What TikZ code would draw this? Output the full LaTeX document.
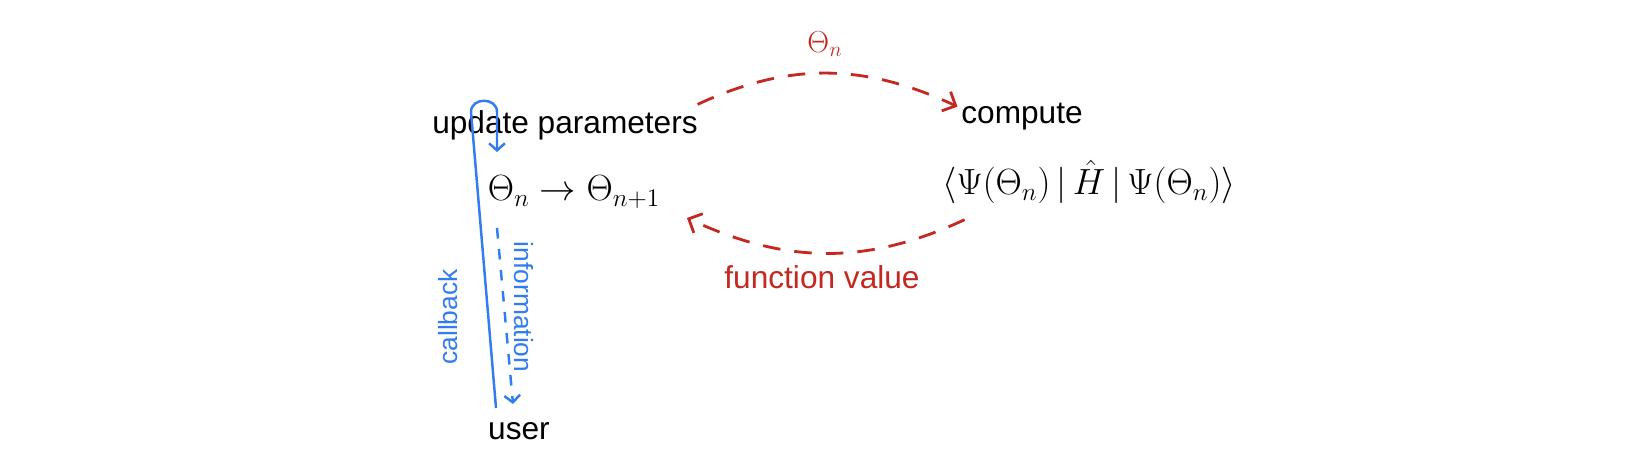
\documentclass[tikz,border=0pt]{standalone}
\usepackage{amsmath}
\usepackage{amssymb}
\usepackage{fontspec}
\setmainfont{Liberation Sans}
\usepackage{tikz}
\usetikzlibrary{arrows,arrows.meta}

\definecolor{penred}{RGB}{196,40,32}
\definecolor{penblue}{RGB}{48,124,240}

\begin{document}
\begin{tikzpicture}[x=0.02cm,y=-0.02cm]
    \tikzset{word/.style = {font=\fontsize{18}{22}\selectfont,inner sep=2pt}}
    \tikzset{formula/.style = {font=\fontsize{20}{24}\selectfont,inner sep=2pt}}
    \tikzset{note/.style = {font=\fontsize{15}{18}\selectfont,inner sep=2pt}}
    \tikzset{redarc/.style = {-{Straight Barb[length=6pt,width=12pt]},penred,line width=1.6pt,dash pattern=on 10pt off 8pt}}
    \tikzset{blueline/.style = {-{Straight Barb[length=4pt,width=9pt]},penblue,line width=1.4pt}}
    \useasboundingbox (0,0) rectangle (1648,472);
    % vertices
    \node[word] (upd) at (565,125) {update parameters};
    \node[formula] (step) at (574,192) {$\Theta_n \to \Theta_{n+1}$};
    \node[word] (comp) at (1022,117) {compute};
    \node[formula] (expval) at (1089,182) {$\langle \Psi(\Theta_n) \,|\, \hat{H} \,|\, \Psi(\Theta_n) \rangle$};
    \node[word] (user) at (519,431) {user};
    \node[word,penred] (thlab) at (825,44) {$\Theta_n$};
    \node[word,penred] (fval) at (822,277) {function value};
    \node[note,penblue,rotate=90] (cb) at (448,317) {callback};
    \node[note,penblue,rotate=-90] (info) at (524,307) {information};
    \coordinate (cbbot) at (496,408);
    \coordinate (cbtop) at (471,112);
    \coordinate (hook) at (497,152);
    \coordinate (infotop) at (497,228);
    \coordinate (infobot) at (513,404);
    %edges
    \draw[redarc] ([shift={(-4,-2)}]upd.north east) to[out=25,in=155] ([shift={(0,7)}]comp.north west);
    \draw[redarc] ([shift={(26,12)}]expval.south west) to[out=-155,in=-25] ([shift={(23,26)}]step.east);
    \draw[blueline] (cbbot) -- (cbtop) .. controls +(0,-15) and +(0,-15) .. ++(26,0) -- (hook);
    \draw[blueline,dash pattern=on 6pt off 6pt] (infotop) -- (infobot);
\end{tikzpicture}
\end{document}
